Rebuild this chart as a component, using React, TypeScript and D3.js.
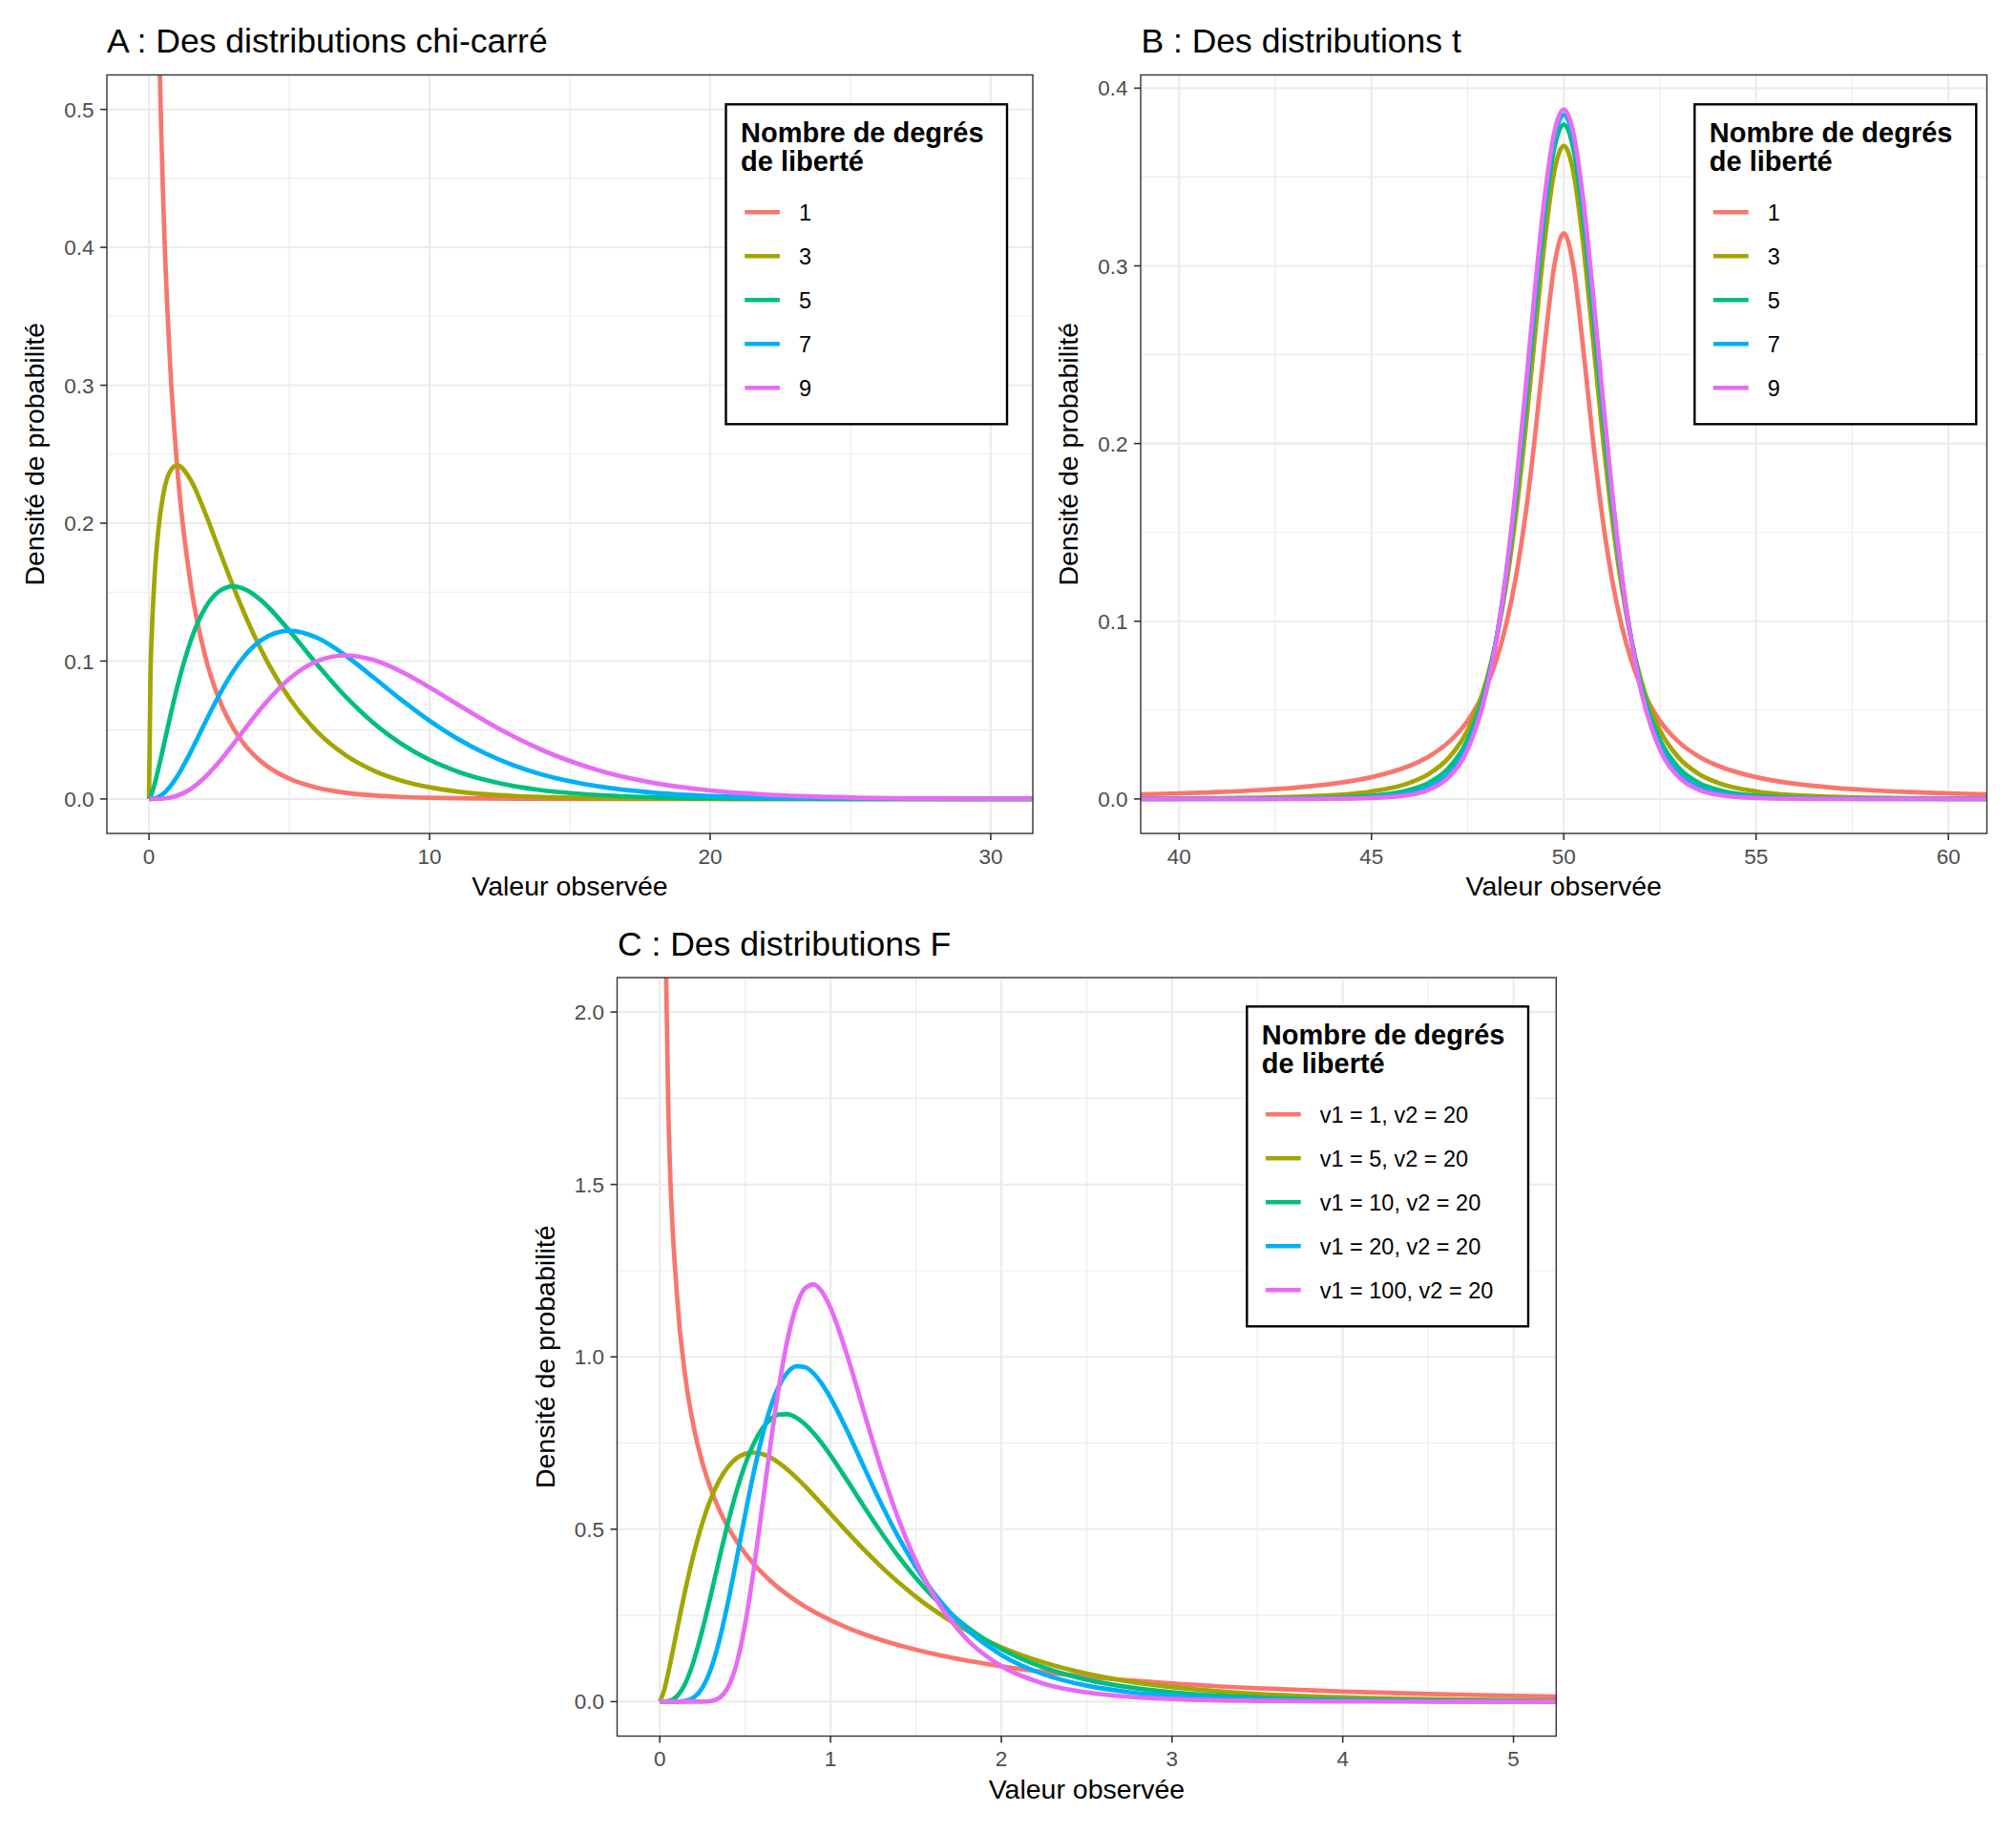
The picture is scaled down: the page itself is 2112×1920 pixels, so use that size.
import React from 'react';
import * as d3 from 'd3';

const FONT = "'Liberation Sans', Arial, Helvetica, sans-serif";
const COLORS = ['#F8766D', '#A3A500', '#00BF7D', '#00B0F6', '#E76BF3'];

// ---------- Panel A : chi-square densities ----------
const chiTitle = 'A : Des distributions chi-carré';
const chiLegend = ['1', '3', '5', '7', '9'];
const chiX = [0, 0.05, 0.1, 0.2, 0.35, 0.5, 0.75, 1, 1.5, 2, 2.5, 3, 3.5, 4, 5, 6, 7, 8, 9, 10, 11, 12, 13, 14, 16, 18, 20, 22, 25, 28, 30, 31.5];
const chiDf1 = [null, 1.7401, 1.2, 0.80717, 0.56608, 0.43939, 0.31661, 0.24197, 0.15387, 0.10378, 0.072289, 0.051393, 0.037056, 0.026996, 0.014645, 0.0081087, 0.0045533, 0.0025834, 0.0014773, 0.00085004, 0.00049158, 0.00028547, 0.00016635, 0.000097226, 0.000033457, 0.000011604, 0.00000405, 0.0000014206, 0.0000002974, 0.0000000627, 0.0000000223, 0.0000000103];
const chiDf3 = [0, 0.087005, 0.12, 0.16143, 0.19813, 0.2197, 0.23746, 0.24197, 0.23081, 0.20756, 0.18072, 0.15418, 0.1297, 0.10798, 0.073225, 0.048652, 0.031873, 0.020667, 0.013296, 0.0085004, 0.0054074, 0.0034256, 0.0021626, 0.0013612, 0.00053531, 0.00020887, 0.000081, 0.00003125, 0.000007434, 0.000001755, 0.000000668, 0.000000324];
const chiDf5 = [0, 0.0014501, 0.004, 0.010762, 0.023115, 0.036617, 0.059365, 0.080657, 0.11541, 0.13837, 0.1506, 0.15418, 0.15132, 0.14397, 0.12204, 0.097304, 0.07437, 0.055112, 0.039888, 0.028335, 0.019827, 0.013702, 0.0093713, 0.0063523, 0.002855, 0.0012532, 0.00054, 0.00022917, 0.00006195, 0.00001638, 0.00000668, 0.0000034];
const chiDf7 = [0, 0.0000145, 0.00008, 0.00043048, 0.0016181, 0.0036617, 0.0089048, 0.016131, 0.034623, 0.055348, 0.0753, 0.092508, 0.10592, 0.11518, 0.12204, 0.11676, 0.10412, 0.088179, 0.071798, 0.05667, 0.043619, 0.032885, 0.024365, 0.017786, 0.009136, 0.0045115, 0.00216, 0.0010083, 0.00030975, 0.0000917, 0.0000401, 0.0000214];
const chiDf9 = [0, 0.0000001, 0.00000114, 0.0000123, 0.0000809, 0.00026155, 0.00095409, 0.0023044, 0.0074192, 0.015814, 0.026893, 0.039646, 0.05296, 0.065817, 0.087171, 0.10008, 0.10412, 0.10078, 0.092312, 0.080957, 0.068544, 0.056374, 0.045249, 0.035572, 0.020882, 0.011601, 0.0061714, 0.0031689, 0.0011063, 0.0003668, 0.0001719, 0.0000963];
const chiXTicks = [0, 10, 20, 30];
const chiXTickLabels = ['0', '10', '20', '30'];
const chiYTicks = [0, 0.1, 0.2, 0.3, 0.4, 0.5];
const chiYTickLabels = ['0.0', '0.1', '0.2', '0.3', '0.4', '0.5'];

// ---------- Panel B : t densities (centred on 50) ----------
const tTitle = 'B : Des distributions t';
const tLegend = ['1', '3', '5', '7', '9'];
const tX = [39, 40, 41, 42, 43, 44, 45, 46, 46.5, 47, 47.5, 48, 48.25, 48.5, 48.75, 49, 49.25, 49.5, 49.75, 50, 50.25, 50.5, 50.75, 51, 51.25, 51.5, 51.75, 52, 52.5, 53, 53.5, 54, 55, 56, 57, 58, 59, 60, 61];
const tDf1 = [0.0026091, 0.0031516, 0.0038818, 0.0048971, 0.0063662, 0.008603, 0.012243, 0.018724, 0.024023, 0.031831, 0.043905, 0.063662, 0.078353, 0.097942, 0.12422, 0.15915, 0.20372, 0.25465, 0.29959, 0.31831, 0.29959, 0.25465, 0.20372, 0.15915, 0.12422, 0.097942, 0.078353, 0.063662, 0.043905, 0.031831, 0.024023, 0.018724, 0.012243, 0.008603, 0.0063662, 0.0048971, 0.0038818, 0.0031516, 0.0026091];
const tDf3 = [0.00021514, 0.0003118, 0.00046881, 0.0007369, 0.0012234, 0.0021749, 0.0042194, 0.0091634, 0.014224, 0.022972, 0.038661, 0.067509, 0.090003, 0.12002, 0.15891, 0.20675, 0.26064, 0.31318, 0.3527, 0.36755, 0.3527, 0.31318, 0.26064, 0.20675, 0.15891, 0.12002, 0.090003, 0.067509, 0.038661, 0.022972, 0.014224, 0.0091634, 0.0042194, 0.0021749, 0.0012234, 0.0007369, 0.00046881, 0.0003118, 0.00021514];
const tDf5 = [0.000023721, 0.00004099, 0.000074602, 0.00014444, 0.00030135, 0.00068849, 0.0017575, 0.0051238, 0.0092445, 0.017293, 0.033327, 0.065091, 0.090539, 0.12452, 0.1679, 0.21968, 0.2757, 0.32792, 0.36572, 0.37961, 0.36572, 0.32792, 0.2757, 0.21968, 0.1679, 0.12452, 0.090539, 0.065091, 0.033327, 0.017293, 0.0092445, 0.0051238, 0.0017575, 0.00068849, 0.00030135, 0.00014444, 0.000074602, 0.00004099, 0.000023721];
const tDf7 = [0.000003444, 0.000007052, 0.000015414, 0.000036376, 0.000093994, 0.00027038, 0.00088156, 0.0033032, 0.0067318, 0.014105, 0.029991, 0.063136, 0.090163, 0.12627, 0.17197, 0.22568, 0.28261, 0.33458, 0.37155, 0.385, 0.37155, 0.33458, 0.28261, 0.22568, 0.17197, 0.12627, 0.090163, 0.063136, 0.029991, 0.014105, 0.0067318, 0.0033032, 0.00088156, 0.00027038, 0.000093994, 0.000036376, 0.000015414, 0.000007052, 0.000003444];
const tDf9 = [0.000000617, 0.000001489, 0.00000388, 0.000011056, 0.000034914, 0.00012417, 0.00050423, 0.0023463, 0.005287, 0.012126, 0.027783, 0.061711, 0.089723, 0.12715, 0.17428, 0.22913, 0.28656, 0.33835, 0.37483, 0.38803, 0.37483, 0.33835, 0.28656, 0.22913, 0.17428, 0.12715, 0.089723, 0.061711, 0.027783, 0.012126, 0.005287, 0.0023463, 0.00050423, 0.00012417, 0.000034914, 0.000011056, 0.00000388, 0.000001489, 0.000000617];
const tXTicks = [40, 45, 50, 55, 60];
const tXTickLabels = ['40', '45', '50', '55', '60'];
const tYTicks = [0, 0.1, 0.2, 0.3, 0.4];
const tYTickLabels = ['0.0', '0.1', '0.2', '0.3', '0.4'];

// ---------- Panel C : F densities (v2 = 20) ----------
const fTitle = 'C : Des distributions F';
const fLegend = ['v1 = 1, v2 = 20', 'v1 = 5, v2 = 20', 'v1 = 10, v2 = 20', 'v1 = 20, v2 = 20', 'v1 = 100, v2 = 20'];
const fX = [0, 0.025, 0.05, 0.1, 0.15, 0.2, 0.25, 0.3, 0.35, 0.4, 0.45, 0.5, 0.55, 0.6, 0.65, 0.7, 0.75, 0.8, 0.85, 0.9, 0.95, 1.0, 1.1, 1.2, 1.3, 1.4, 1.5, 1.6, 1.8, 2.0, 2.25, 2.5, 2.75, 3.0, 3.5, 4.0, 4.5, 5.0, 5.25];
const fV1 = [null, 2.4594, 1.7164, 1.1823, 0.94051, 0.7936, 0.69164, 0.61524, 0.55505, 0.506, 0.46496, 0.42993, 0.39957, 0.37292, 0.34929, 0.32813, 0.30909, 0.2918, 0.27604, 0.2616, 0.24833, 0.23604, 0.2141, 0.19506, 0.17838, 0.16364, 0.15054, 0.13883, 0.11883, 0.10242, 0.085758, 0.072344, 0.061418, 0.052436, 0.038729, 0.029045, 0.022049, 0.016922, 0.014869];
const fV5 = [0, 0.032415, 0.084847, 0.20589, 0.32503, 0.43088, 0.51934, 0.58985, 0.64328, 0.68132, 0.7059, 0.71898, 0.72247, 0.71808, 0.70735, 0.69162, 0.67195, 0.64944, 0.62496, 0.59886, 0.57215, 0.54484, 0.49077, 0.43869, 0.38986, 0.34489, 0.3041, 0.26746, 0.20582, 0.15779, 0.11304, 0.081085, 0.058356, 0.042206, 0.022452, 0.012243, 0.006848, 0.0039234, 0.0029977];
const fV10 = [0, 0.00010138, 0.0013496, 0.015043, 0.053528, 0.11983, 0.20885, 0.31138, 0.4178, 0.51974, 0.61107, 0.68787, 0.74831, 0.79202, 0.81977, 0.83305, 0.83366, 0.82362, 0.80488, 0.77935, 0.74868, 0.71436, 0.63959, 0.56262, 0.48844, 0.4198, 0.35817, 0.30386, 0.21632, 0.15274, 0.098561, 0.063717, 0.041463, 0.027207, 0.012066, 0.0055812, 0.0026903, 0.0013491, 0.00096912];
const fV20 = [0, 0, 0.00000068, 0.0001372, 0.0021679, 0.012337, 0.040631, 0.095673, 0.18009, 0.28944, 0.41411, 0.54261, 0.66405, 0.77007, 0.85528, 0.91722, 0.95578, 0.97258, 0.9703, 0.95209, 0.92127, 0.88099, 0.78292, 0.67569, 0.57083, 0.47478, 0.39047, 0.31855, 0.20888, 0.13565, 0.07899, 0.046309, 0.027476, 0.01654, 0.00628, 0.0025388, 0.0010897, 0.00049345, 0.00033837];
const fV100 = [0, 0, 0, 0, 0, 0.0000027, 0.00013022, 0.0017741, 0.011118, 0.041719, 0.10991, 0.22494, 0.38242, 0.56551, 0.75175, 0.91983, 1.05448, 1.14777, 1.19846, 1.20997, 1.18861, 1.1418, 1.00022, 0.83302, 0.6702, 0.52665, 0.40738, 0.31187, 0.17989, 0.10318, 0.051931, 0.026651, 0.014012, 0.0075568, 0.0023747, 0.00082154, 0.00030907, 0.00012523, 0.0000817];
const fXTicks = [0, 1, 2, 3, 4, 5];
const fXTickLabels = ['0', '1', '2', '3', '4', '5'];
const fYTicks = [0, 0.5, 1, 1.5, 2];
const fYTickLabels = ['0.0', '0.5', '1.0', '1.5', '2.0'];

const xTitle = 'Valeur observée';
const yTitle = 'Densité de probabilité';
const legendTitle = ['Nombre de degrés', 'de liberté'];

type Series = (number | null)[];

interface PanelProps {
  id: string;
  title: string;
  titleX: number;
  titleY: number;
  left: number;
  right: number;
  top: number;
  bottom: number;
  xDomain: [number, number];
  yDomain: [number, number];
  xTicks: number[];
  xTickLabels: string[];
  yTicks: number[];
  yTickLabels: string[];
  xs: number[];
  series: Series[];
  legendLabels: string[];
  legendX: number;
  legendY: number;
  legendW: number;
  legendH: number;
}

function minorBreaks(ticks: number[], dom: [number, number]): number[] {
  const s = ticks[1] - ticks[0];
  const out: number[] = [];
  for (let i = -1; i < ticks.length; i++) {
    const v = ticks[0] + s * i + s / 2;
    if (v >= dom[0] && v <= dom[1]) out.push(v);
  }
  return out;
}

function Panel(p: PanelProps) {
  const x = d3.scaleLinear().domain(p.xDomain).range([p.left, p.right]);
  const y = d3.scaleLinear().domain(p.yDomain).range([p.bottom, p.top]);
  const line = d3
    .line<[number, number | null]>()
    .defined((d) => d[1] != null)
    .x((d) => x(d[0]))
    .y((d) => y(d[1] as number))
    .curve(d3.curveMonotoneX);
  const xMinor = minorBreaks(p.xTicks, p.xDomain);
  const yMinor = minorBreaks(p.yTicks, p.yDomain);
  const grid = '#EBEBEB';
  const axisCol = '#333333';
  const tickCol = '#4D4D4D';
  const cx = (p.left + p.right) / 2;
  const cy = (p.top + p.bottom) / 2;
  const lx = p.legendX;
  const ly = p.legendY;
  return (
    <g>
      <defs>
        <clipPath id={`clip-${p.id}`}>
          <rect x={p.left} y={p.top} width={p.right - p.left} height={p.bottom - p.top} />
        </clipPath>
      </defs>
      <text x={p.titleX} y={p.titleY} fontSize={35.5} fontFamily={FONT} fill="#000">
        {p.title}
      </text>
      <rect x={p.left} y={p.top} width={p.right - p.left} height={p.bottom - p.top} fill="#fff" />
      {xMinor.map((v, i) => (
        <line key={`xm${i}`} x1={x(v)} x2={x(v)} y1={p.top} y2={p.bottom} stroke={grid} strokeWidth={1.1} />
      ))}
      {yMinor.map((v, i) => (
        <line key={`ym${i}`} y1={y(v)} y2={y(v)} x1={p.left} x2={p.right} stroke={grid} strokeWidth={1.1} />
      ))}
      {p.xTicks.map((v, i) => (
        <line key={`xg${i}`} x1={x(v)} x2={x(v)} y1={p.top} y2={p.bottom} stroke={grid} strokeWidth={2.1} />
      ))}
      {p.yTicks.map((v, i) => (
        <line key={`yg${i}`} y1={y(v)} y2={y(v)} x1={p.left} x2={p.right} stroke={grid} strokeWidth={2.1} />
      ))}
      <g clipPath={`url(#clip-${p.id})`}>
        {p.series.map((s, i) => (
          <path
            key={`s${i}`}
            d={line(p.xs.map((xv, j) => [xv, s[j]] as [number, number | null])) || ''}
            fill="none"
            stroke={COLORS[i]}
            strokeWidth={4.7}
            strokeLinejoin="round"
          />
        ))}
      </g>
      <rect
        x={p.left}
        y={p.top}
        width={p.right - p.left}
        height={p.bottom - p.top}
        fill="none"
        stroke={axisCol}
        strokeWidth={1.4}
      />
      {p.xTicks.map((v, i) => (
        <g key={`xt${i}`}>
          <line x1={x(v)} x2={x(v)} y1={p.bottom} y2={p.bottom + 7} stroke={axisCol} strokeWidth={1.6} />
          <text x={x(v)} y={p.bottom + 31.5} textAnchor="middle" fontSize={22.5} fontFamily={FONT} fill={tickCol}>
            {p.xTickLabels[i]}
          </text>
        </g>
      ))}
      {p.yTicks.map((v, i) => (
        <g key={`yt${i}`}>
          <line x1={p.left - 7} x2={p.left} y1={y(v)} y2={y(v)} stroke={axisCol} strokeWidth={1.6} />
          <text
            x={p.left - 13.5}
            y={y(v)}
            dy="0.36em"
            textAnchor="end"
            fontSize={22.5}
            fontFamily={FONT}
            fill={tickCol}
          >
            {p.yTickLabels[i]}
          </text>
        </g>
      ))}
      <text x={cx} y={p.bottom + 65} textAnchor="middle" fontSize={28.5} fontFamily={FONT} fill="#000">
        {xTitle}
      </text>
      <text
        transform={`translate(${p.left - 66},${cy}) rotate(-90)`}
        textAnchor="middle"
        fontSize={28.5}
        fontFamily={FONT}
        fill="#000"
      >
        {yTitle}
      </text>
      <g>
        <rect x={lx} y={ly} width={p.legendW} height={p.legendH} fill="#fff" stroke="#000" strokeWidth={2.4} />
        {legendTitle.map((t, i) => (
          <text
            key={`lt${i}`}
            x={lx + 15.5}
            y={ly + 40 + i * 30}
            fontSize={29}
            fontWeight="bold"
            fontFamily={FONT}
            fill="#000"
          >
            {t}
          </text>
        ))}
        {p.legendLabels.map((lab, i) => (
          <g key={`li${i}`}>
            <line
              x1={lx + 19.7}
              x2={lx + 56.4}
              y1={ly + 113 + i * 46}
              y2={ly + 113 + i * 46}
              stroke={COLORS[i]}
              strokeWidth={4.5}
            />
            <text
              x={lx + 76.4}
              y={ly + 113 + i * 46}
              dy="0.36em"
              fontSize={23.5}
              fontFamily={FONT}
              fill="#000"
            >
              {lab}
            </text>
          </g>
        ))}
      </g>
    </g>
  );
}

export default function App() {
  return (
    <svg
      width={2112}
      height={1920}
      viewBox="0 0 2112 1920"
      style={{ position: 'absolute', left: 0, top: 0, display: 'block', background: '#fff' }}
    >
      <rect x={0} y={0} width={2112} height={1920} fill="#fff" />
      <Panel
        id="a"
        title={chiTitle}
        titleX={112}
        titleY={55}
        left={112}
        right={1082}
        top={78.5}
        bottom={873}
        xDomain={[-1.5, 31.5]}
        yDomain={[-0.025, 0.525]}
        xTicks={chiXTicks}
        xTickLabels={chiXTickLabels}
        yTicks={chiYTicks}
        yTickLabels={chiYTickLabels}
        xs={chiX}
        series={[chiDf1, chiDf3, chiDf5, chiDf7, chiDf9]}
        legendLabels={chiLegend}
        legendX={760.5}
        legendY={109.3}
        legendW={294.5}
        legendH={335}
      />
      <Panel
        id="b"
        title={tTitle}
        titleX={1195.4}
        titleY={54.5}
        left={1195}
        right={2081.5}
        top={78.5}
        bottom={873}
        xDomain={[39, 61]}
        yDomain={[-0.0194015, 0.4074315]}
        xTicks={tXTicks}
        xTickLabels={tXTickLabels}
        yTicks={tYTicks}
        yTickLabels={tYTickLabels}
        xs={tX}
        series={[tDf1, tDf3, tDf5, tDf7, tDf9]}
        legendLabels={tLegend}
        legendX={1775.3}
        legendY={109.3}
        legendW={295}
        legendH={335}
      />
      <Panel
        id="c"
        title={fTitle}
        titleX={647}
        titleY={1000.7}
        left={646.5}
        right={1630.3}
        top={1024}
        bottom={1818.5}
        xDomain={[-0.25, 5.25]}
        yDomain={[-0.1, 2.1]}
        xTicks={fXTicks}
        xTickLabels={fXTickLabels}
        yTicks={fYTicks}
        yTickLabels={fYTickLabels}
        xs={fX}
        series={[fV1, fV5, fV10, fV20, fV100]}
        legendLabels={fLegend}
        legendX={1306.3}
        legendY={1054.3}
        legendW={294.7}
        legendH={335}
      />
    </svg>
  );
}
